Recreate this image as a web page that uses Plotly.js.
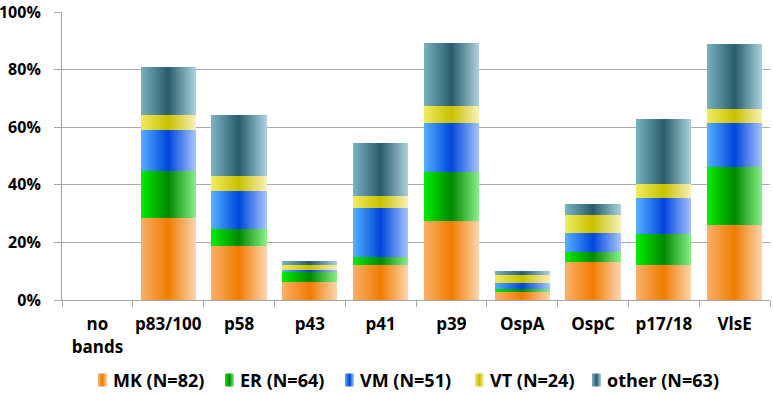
<!DOCTYPE html>
<html>
<head>
<meta charset="utf-8">
<script src="https://cdn.plot.ly/plotly-3.0.1.min.js"></script>
<style>
html,body{margin:0;padding:0;background:#fff;}
#chart{width:773px;height:395px;}
</style>
</head>
<body>
<div id="chart"></div>
<script>
const categories = ["no<br>bands","p83/100","p58","p43","p41","p39","OspA","OspC","p17/18","VlsE"];
const seriesNames = ["MK (N=82)","ER (N=64)","VM (N=51)","VT (N=24)","other (N=63)"];
const mk    = [0, 28.6, 18.9, 6.4, 12.2, 27.3, 2.9, 13.2, 12.2, 25.9];
const er    = [0, 16.2,  5.8, 3.4,  2.6, 17.3, 0.9,  3.4, 10.8, 20.3];
const vm    = [0, 14.1, 13.0, 0.6, 17.1, 16.9, 2.0,  6.8, 12.4, 15.3];
const vt    = [0,  5.2,  5.4, 1.9,  4.2,  5.9, 2.8,  6.1,  5.0,  4.9];
const other = [0, 16.9, 21.0, 1.4, 18.5, 21.7, 1.4,  3.7, 22.4, 22.5];
const seriesValues = [mk, er, vm, vt, other];
const yTicks = [0,20,40,60,80,100];
const yTickLabels = ["0%","20%","40%","60%","80%","100%"];

const solid = ["#f28a1e","#00b400","#1a66ee","#d8d020","#3f7d8e"];
const grads = [
  ["#f9b06a","#f07c00","#fdd6b0"],
  ["#00ee00","#008800","#88f088"],
  ["#55b0ff","#0046dc","#a8c4ff"],
  ["#f0ec60","#c8c000","#f8f2b8"],
  ["#7ab2c2","#285c6c","#acd2de"]
];

const FONT = "Open Sans, Liberation Sans, Arial, sans-serif";

const traces = seriesValues.map((vals,i)=>({
  type:"bar",
  x:categories,
  y:vals,
  name:seriesNames[i],
  marker:{color:solid[i], line:{width:0}},
  hoverinfo:"skip",
  showlegend:false
}));

// custom legend (plot area: x 62..770 px, y 12..300 px)
const plotL = 62, plotW = 708, plotB = 300, plotH = 288;
const px2x = p => (p - plotL) / plotW;
const px2y = p => (plotB - p) / plotH;
const legendSymbolLeft = [98, 225, 345, 475, 592];
const legendY = 380;
const shapes = [], annotations = [];
seriesNames.forEach((nm,i)=>{
  const sx = legendSymbolLeft[i];
  shapes.push({type:"rect", xref:"paper", yref:"paper",
    x0:px2x(sx), x1:px2x(sx+9), y0:px2y(legendY-6.5), y1:px2y(legendY+6.5),
    fillcolor:solid[i], line:{width:0}, layer:"above"});
  annotations.push({xref:"paper", yref:"paper", x:px2x(sx+13), y:px2y(legendY),
    xanchor:"left", yanchor:"middle", showarrow:false, text:nm,
    font:{family:FONT, size:18, color:"#000", weight:"bold"}});
});

const layout = {
  width:773, height:395,
  margin:{l:62, r:3, t:12, b:95},
  barmode:"stack",
  bargap:0.22,
  paper_bgcolor:"#fff",
  plot_bgcolor:"#fff",
  font:{family:FONT, size:14, color:"#000"},
  showlegend:false,
  shapes:shapes,
  annotations:annotations,
  xaxis:{
    type:"category",
    showline:true, linecolor:"#a6a6a6", linewidth:1,
    ticks:"outside", ticklen:6, tickcolor:"#a6a6a6",
    tickson:"boundaries",
    tickangle:0,
    ticklabelstandoff:9,
    tickfont:{family:FONT, size:17, color:"#000", weight:"bold"},
    showgrid:false,
    range:[-0.5,9.5]
  },
  yaxis:{
    range:[0,100],
    tickvals:yTicks,
    ticktext:yTickLabels,
    showgrid:true, gridcolor:"#ababab", gridwidth:1,
    showline:true, linecolor:"#a6a6a6", linewidth:1,
    ticks:"outside", ticklen:7, tickcolor:"#a6a6a6",
    ticklabelstandoff:10,
    ticklabeloverflow:"allow",
    tickfont:{family:FONT, size:16, color:"#000", weight:"bold"},
    zeroline:false,
    fixedrange:true
  }
};

Plotly.newPlot("chart", traces, layout, {displayModeBar:false, staticPlot:true}).then(gd=>{
  const svg = gd.querySelector("svg.main-svg");
  const defs = svg.querySelector("defs");
  const NS = "http://www.w3.org/2000/svg";
  grads.forEach((g,i)=>{
    const lg = document.createElementNS(NS,"linearGradient");
    lg.setAttribute("id","bargrad"+i);
    lg.setAttribute("x1","0"); lg.setAttribute("x2","1");
    lg.setAttribute("y1","0"); lg.setAttribute("y2","0");
    [[0,g[0]],[0.5,g[1]],[1,g[2]]].forEach(s=>{
      const st = document.createElementNS(NS,"stop");
      st.setAttribute("offset",s[0]);
      st.setAttribute("stop-color",s[1]);
      lg.appendChild(st);
    });
    defs.appendChild(lg);
  });
  gd.querySelectorAll(".barlayer .trace").forEach((t,i)=>{
    t.querySelectorAll(".point path").forEach(p=>{
      p.style.fill = "url(#bargrad"+i+")";
    });
  });
  gd.querySelectorAll(".layer-above .shapelayer path").forEach((p,i)=>{
    if(i < grads.length) p.style.fill = "url(#bargrad"+i+")";
  });
});
</script>
</body>
</html>
